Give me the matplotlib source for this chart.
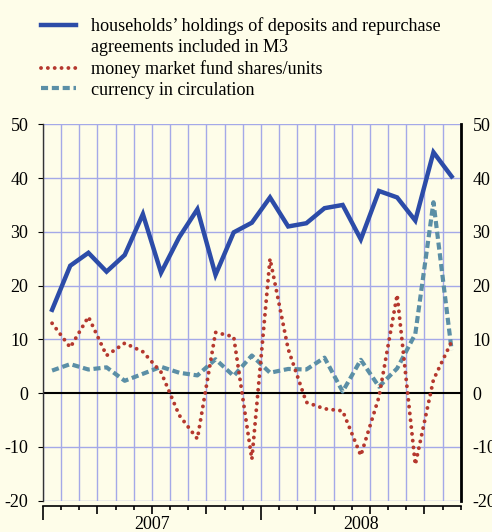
import matplotlib
matplotlib.use('Agg')
import matplotlib.pyplot as plt
from matplotlib.lines import Line2D
import numpy as np

# ---- data ----
months = ['2007-01', '2007-02', '2007-03', '2007-04', '2007-05', '2007-06',
          '2007-07', '2007-08', '2007-09', '2007-10', '2007-11', '2007-12',
          '2008-01', '2008-02', '2008-03', '2008-04', '2008-05', '2008-06',
          '2008-07', '2008-08', '2008-09', '2008-10', '2008-11']
households = [15.5, 23.7, 26.1, 22.6, 25.7, 33.3, 22.4, 29.0, 34.2, 22.0, 29.9, 31.7,
              36.4, 31.0, 31.6, 34.4, 35.0, 28.6, 37.6, 36.4, 32.1, 44.8, 40.3]
mmf = [13.0, 8.5, 14.2, 7.0, 9.3, 7.7, 3.9, -4.1, -8.5, 11.3, 10.5, -12.3,
       25.0, 8.2, -1.7, -2.9, -3.3, -11.6, -0.7, 18.3, -13.3, 2.5, 9.6]
currency = [4.2, 5.4, 4.4, 4.8, 2.3, 3.6, 4.9, 3.8, 3.3, 6.3, 3.2, 7.0,
            3.8, 4.5, 4.4, 6.6, 0.3, 6.2, 1.2, 4.6, 11.0, 35.5, 8.0]
yticks = [-20, -10, 0, 10, 20, 30, 40, 50]
labels = ['households\u2019 holdings of deposits and repurchase',
          'agreements included in M3',
          'money market fund shares/units',
          'currency in circulation']

BG = '#fefde9'
GRID = '#a4a9e8'
BLUE = '#2c4ca8'
RED = '#b5382e'
TEAL = '#5b8fa6'

RED_LS = (0, (0.01, 1.75))
TEAL_LS = (0, (1.7, 0.9))

plt.rcParams['font.family'] = ['Liberation Serif', 'DejaVu Serif']

fig = plt.figure(figsize=(4.92, 5.32), dpi=100, facecolor=BG)
ax = fig.add_axes([43 / 492, 1 - 500.7 / 532, (460.7 - 43) / 492, (500.7 - 124.3) / 532],
                  facecolor=BG)

n = len(months)
x = np.arange(n) + 0.5
ax.set_xlim(0, n)
ax.set_ylim(yticks[0], yticks[-1])

# grid
for v in range(n + 1):
    ax.axvline(v, color=GRID, lw=1.0, zorder=0)
for t in yticks:
    if t != 0:
        ax.axhline(t, color=GRID, lw=1.0, zorder=0)
ax.axhline(0, color='black', lw=1.5, zorder=1)

# series
ax.plot(x, currency, color=TEAL, lw=3.0, linestyle=TEAL_LS,
        dash_capstyle='butt', zorder=3)
ax.plot(x, mmf, color=RED, lw=2.8, linestyle=RED_LS,
        dash_capstyle='round', zorder=4)
ax.plot(x, households, color=BLUE, lw=3.2, solid_joinstyle='miter', zorder=5)

# spines
ax.spines['top'].set_visible(False)
ax.spines['left'].set_color('#333333')
ax.spines['left'].set_linewidth(1.0)
ax.spines['right'].set_color('black')
ax.spines['right'].set_linewidth(2.0)
ax.spines['bottom'].set_position(('outward', 4))
ax.spines['bottom'].set_linewidth(1.2)

# y ticks (left on main axes, right on a twin)
ax.set_yticks(yticks)
ax.set_yticklabels([str(t) for t in yticks])
ax.tick_params(axis='y', left=False, right=False, labelleft=True, labelright=False,
               pad=7, labelsize=13)
ax2 = ax.twinx()
ax2.set_ylim(ax.get_ylim())
ax2.set_yticks(yticks)
ax2.set_yticklabels([str(t) for t in yticks])
ax2.tick_params(axis='y', right=False, left=False, labelright=True, pad=5, labelsize=13)
for s in ax2.spines.values():
    s.set_visible(False)

# x ticks: every month boundary
ax.set_xticks(range(n + 1))
ax.set_xticklabels([])
ax.tick_params(axis='x', direction='out', length=3, width=1.2, color='black')
for i, tk in enumerate(ax.xaxis.get_major_ticks()):
    if i % 12 == 0:
        tk.tick1line.set_markersize(10)
    elif i % 3 == 0:
        tk.tick1line.set_markersize(6)

# year labels
years = sorted(set(m[:4] for m in months))
for y in years:
    idx = [i for i, m in enumerate(months) if m[:4] == y]
    c = (idx[0] + idx[-1] + 1) / 2
    ax.text(c, -0.062, y, transform=ax.get_xaxis_transform(), ha='center', va='center',
            fontsize=13)

# legend
handles = [Line2D([], [], color=BLUE, lw=3.2),
           Line2D([], [], color='none'),
           Line2D([], [], color=RED, lw=2.8, linestyle=RED_LS, dash_capstyle='round'),
           Line2D([], [], color=TEAL, lw=3.0, linestyle=TEAL_LS)]
fig.legend(handles, labels, loc='upper left', bbox_to_anchor=(41 / 492, 1 - 17.5 / 532),
           frameon=False, fontsize=13.1, handlelength=1.93, handletextpad=0.8,
           labelspacing=0.21, borderpad=0, borderaxespad=0)

fig.savefig('out.png', dpi=100, facecolor=BG)
